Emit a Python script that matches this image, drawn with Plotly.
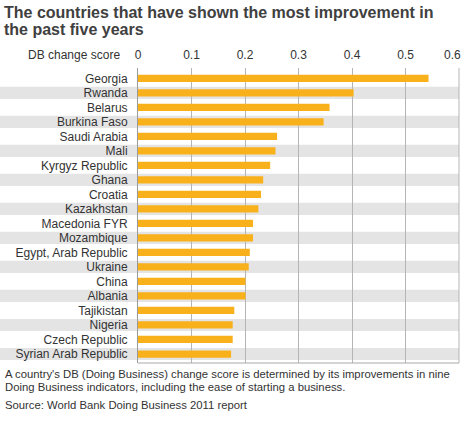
import plotly.graph_objects as go

countries = ["Georgia", "Rwanda", "Belarus", "Burkina Faso", "Saudi Arabia", "Mali",
             "Kyrgyz Republic", "Ghana", "Croatia", "Kazakhstan", "Macedonia FYR",
             "Mozambique", "Egypt, Arab Republic", "Ukraine", "China", "Albania",
             "Tajikistan", "Nigeria", "Czech Republic", "Syrian Arab Republic"]
scores = [0.543, 0.403, 0.358, 0.347, 0.260, 0.257, 0.247, 0.234, 0.230, 0.225,
          0.215, 0.215, 0.209, 0.207, 0.201, 0.201, 0.180, 0.177, 0.177, 0.174]
x_ticks = [0, 0.1, 0.2, 0.3, 0.4, 0.5, 0.6]
x_tick_labels = ["0", "0.1", "0.2", "0.3", "0.4", "0.5", "0.6"]

title_lines = ["The countries that have shown the most improvement in", "the past five years"]
axis_title = "DB change score"
note_lines = ["A country's DB (Doing Business) change score is determined by its improvements in nine",
              "Doing Business indicators, including the ease of starting a business."]
source = "Source: World Bank Doing Business 2011 report"

W, H = 464, 432
ML, MR, MT, MB = 138, 5, 68, 69
PW = W - ML - MR
PH = H - MT - MB

def px_x(x):
    return (x - ML) / PW

def px_y(y):
    return (H - MB - y) / PH

FONT = "Liberation Sans, Arial, sans-serif"
GRID = "#B5B5B5"
TXT = "#333333"
idx = list(range(len(countries)))

fig = go.Figure(go.Bar(
    x=scores, y=idx, orientation="h", width=0.5,
    marker=dict(color="#F8B11B", line=dict(width=0)),
    hoverinfo="skip",
))

shapes = []
for i in idx:
    if i % 2 == 1:
        shapes.append(dict(type="rect", xref="paper", yref="y", x0=px_x(0), x1=1,
                           y0=i - 0.42, y1=i + 0.42, fillcolor="#E4E4E4",
                           line=dict(width=0), layer="below"))
shapes.append(dict(type="line", xref="paper", yref="paper", x0=0, x1=1, y0=0, y1=0,
                   line=dict(color="#A8A8A8", width=1)))
shapes.append(dict(type="line", xref="paper", yref="paper", x0=1, x1=1, y0=0, y1=1,
                   line=dict(color=GRID, width=1)))

annotations = []
for k, (line, yc) in enumerate(zip(title_lines, [12, 29])):
    annotations.append(dict(text="<b>" + line + "</b>", xref="paper", yref="paper",
                            x=px_x(2), y=px_y(yc), xanchor="left", yanchor="middle",
                            showarrow=False, font=dict(family=FONT, size=16, color="#404040")))
annotations.append(dict(text=axis_title, xref="paper", yref="paper", x=px_x(122), y=px_y(55),
                        xanchor="right", yanchor="middle", showarrow=False,
                        font=dict(family=FONT, size=12, color=TXT)))
# last tick label kept inside the page edge (as in the reference)
annotations.append(dict(text=x_tick_labels[-1], xref="paper", yref="paper", x=px_x(463),
                        y=px_y(55), xanchor="right", yanchor="middle", showarrow=False,
                        font=dict(family=FONT, size=12, color=TXT)))
for line, yc in zip(note_lines + [source], [374, 387, 405]):
    annotations.append(dict(text=line, xref="paper", yref="paper", x=px_x(3), y=px_y(yc),
                            xanchor="left", yanchor="middle", showarrow=False,
                            font=dict(family=FONT, size=11.3, color=TXT)))

fig.update_layout(
    width=W, height=H,
    margin=dict(l=ML, r=MR, t=MT, b=MB, pad=0),
    paper_bgcolor="white", plot_bgcolor="rgba(0,0,0,0)",
    showlegend=False,
    shapes=shapes, annotations=annotations,
    xaxis=dict(side="top", range=[0, 0.6], tickvals=x_ticks,
               ticktext=x_tick_labels[:-1] + [""],
               showgrid=True, gridcolor=GRID, gridwidth=1, zeroline=False,
               showline=False, ticks="", ticklabelstandoff=6,
               tickfont=dict(family=FONT, size=12, color=TXT), fixedrange=True),
    yaxis=dict(range=[19.62, -0.71], tickvals=idx, ticktext=countries,
               showgrid=False, zeroline=False, showline=True, linecolor="#9A9A9A",
               linewidth=1, ticks="", ticklabelstandoff=7,
               tickfont=dict(family=FONT, size=12, color=TXT), fixedrange=True),
    bargap=0.5,
)

fig.write_html("out.html", config={"displayModeBar": False},
               post_script="document.body.style.margin='0';document.body.style.overflow='hidden';")
